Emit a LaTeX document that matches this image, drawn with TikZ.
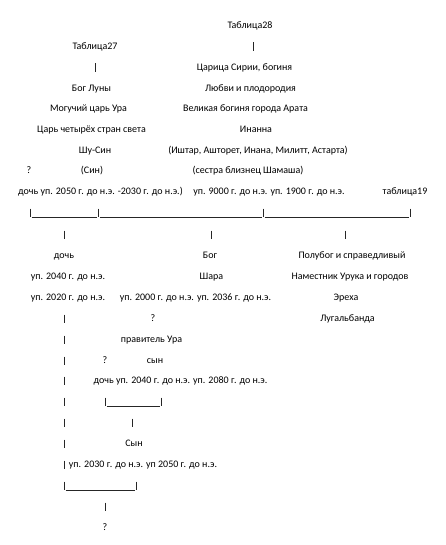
\documentclass[tikz,border=0pt]{standalone}
\usepackage{fontspec}
\setmainfont{Carlito}
\newcommand\mypipe[3]{%
  \coordinate (#1-t) at (#2,#3-3.5);
  \coordinate (#1-b) at (#2,#3+5.2);
  \draw[bar] (#1-t) -- (#1-b);}
\newcommand\myunder[4]{%
  \coordinate (#1-l) at (#2,#4+5.0);
  \coordinate (#1-r) at (#3,#4+5.0);
  \draw[bar] (#1-l) -- (#1-r);}
\begin{document}
\begin{tikzpicture}[x=1pt,y=-1pt,
  txt/.style={font=\fontsize{10}{12}\selectfont, inner sep=0pt, anchor=base, text=black},
  bar/.style={line width=0.75pt, draw=black!85}]
\useasboundingbox[fill=white] (0,0) rectangle (445,545);
% baseline = row centre + 3.5
\node[txt] (t28) at (250,28.5) {Таблица28};
\node[txt] (t27) at (95,49.5) {Таблица27};
\mypipe{p1}{253}{46}
\mypipe{p2}{95}{67}
\node[txt] (syr) at (244.5,70.5) {Царица Сирии, богиня};
\node[txt] (moon) at (91.5,91.5) {Бог Луны};
\node[txt] (love) at (250.5,91.5) {Любви и плодородия};
\node[txt] (ur) at (88.5,111.5) {Могучий царь Ура};
\node[txt] (arata) at (245.5,111.5) {Великая богиня города Арата};
\node[txt] (king) at (91.5,132.5) {Царь четырёх стран света};
\node[txt] (inanna) at (256,132.5) {Инанна};
\node[txt] (shusin) at (95,153.5) {Шу-Син};
\node[txt] (ishtar) at (258,153.5) {(Иштар, Ашторет, Инана, Милитт, Астарта)};
\node[txt] (q1) at (29,173.5) {?};
\node[txt] (sin) at (92,173.5) {(Син)};
\node[txt] (sister) at (248,173.5) {(сестра близнец Шамаша)};
\node[txt] (d1) at (100.5,194.5) {дочь уп. 2050 г. до н.э. -2030 г. до н.э.)};
\node[txt] (d2) at (269,194.5) {уп. 9000 г. до н.э. уп. 1900 г. до н.э.};
\node[txt] (t19) at (405,194.5) {таблица19};
% big bracket
\mypipe{b1}{30}{212}
\mypipe{b2}{98}{212}
\mypipe{b3}{263}{212}
\mypipe{b4}{410}{212}
\myunder{u1}{31.5}{96.5}{212}
\myunder{u2}{99.5}{261.5}{212}
\myunder{u3}{264.5}{408.5}{212}
\mypipe{c1}{64}{234}
\mypipe{c2}{211}{234}
\mypipe{c3}{345}{234}
\node[txt] (doch) at (64,258.5) {дочь};
\node[txt] (bog) at (210,258.5) {Бог};
\node[txt] (polubog) at (352,258.5) {Полубог и справедливый};
\node[txt] (y2040) at (68,279.5) {уп. 2040 г. до н.э.};
\node[txt] (shara) at (211.5,279.5) {Шара};
\node[txt] (namest) at (350,279.5) {Наместник Урука и городов};
\node[txt] (y2020) at (68,300.5) {уп. 2020 г. до н.э.};
\node[txt] (y2000) at (195.5,300.5) {уп. 2000 г. до н.э. уп. 2036 г. до н.э.};
\node[txt] (ereh) at (346,300.5) {Эреха};
\mypipe{v1}{64}{318}
\node[txt] (q2) at (153,321.5) {?};
\node[txt] (lugal) at (347.5,321.5) {Лугальбанда};
\mypipe{v2}{64}{339}
\node[txt] (prav) at (151.5,342.5) {правитель Ура};
\mypipe{v3}{64}{360}
\node[txt] (q3) at (105,363.5) {?};
\node[txt] (syn) at (155,363.5) {сын};
\mypipe{v4}{64}{380}
\node[txt] (d3) at (180.5,383.5) {дочь уп. 2040 г. до н.э. уп. 2080 г. до н.э.};
\mypipe{v5}{64}{401}
\mypipe{s1}{105}{401}
\mypipe{s2}{161}{401}
\myunder{u4}{106.5}{159.5}{401}
\mypipe{v6}{64}{422}
\mypipe{s3}{132}{422}
\mypipe{v7}{64}{443}
\node[txt] (syn2) at (134,446.5) {Сын};
\mypipe{v8}{64}{464}
\node[txt] (y2030) at (143,467.5) {уп. 2030 г. до н.э. уп 2050 г. до н.э.};
\mypipe{v9}{64}{485}
\mypipe{s4}{136}{485}
\myunder{u5}{65.5}{134.5}{485}
\mypipe{s5}{105}{506}
\node[txt] (q4) at (105,530.5) {?};
\end{tikzpicture}
\end{document}
